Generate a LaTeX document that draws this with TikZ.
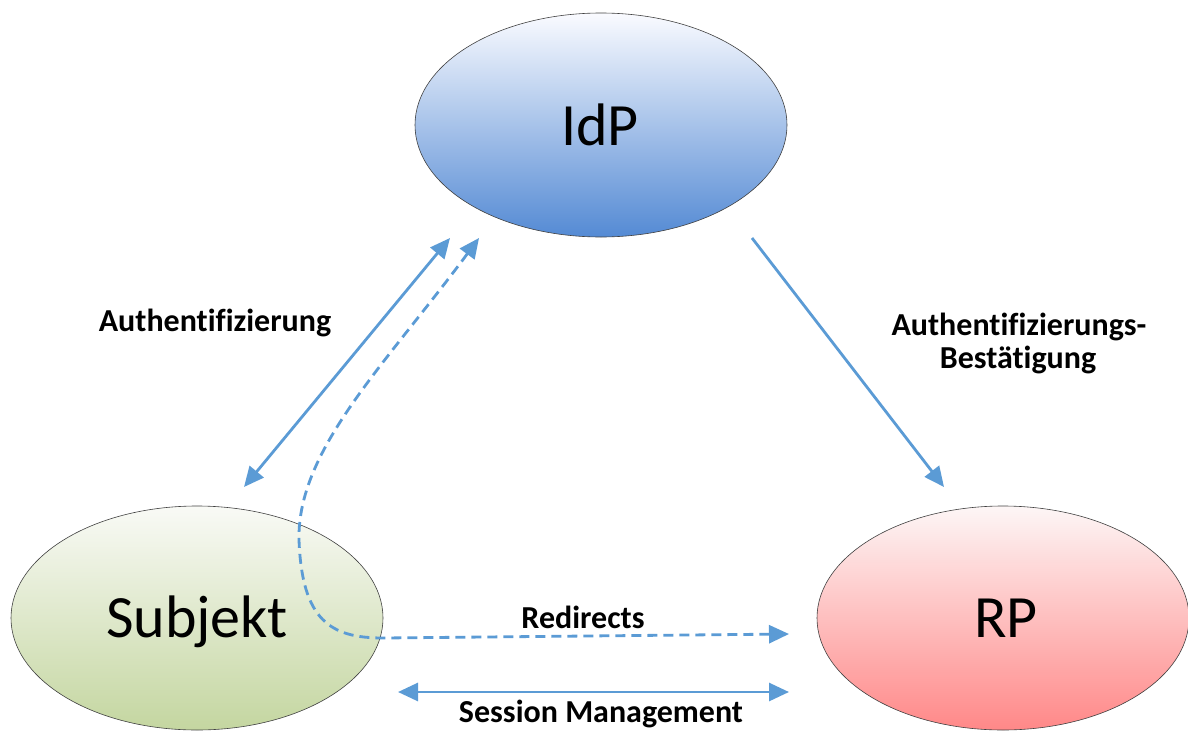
\documentclass[tikz,border=0pt]{standalone}
\usepackage{fontspec}
\setmainfont{Carlito}[Ligatures=NoCommon]
\usetikzlibrary{arrows.meta,shapes.geometric}
\definecolor{arr}{RGB}{91,155,213}
\definecolor{idptop}{RGB}{250,251,255}
\definecolor{idpbot}{RGB}{84,138,212}
\definecolor{subtop}{RGB}{249,250,246}
\definecolor{subbot}{RGB}{196,214,160}
\definecolor{rptop}{RGB}{253,246,246}
\definecolor{rpbot}{RGB}{255,136,136}
\tikzset{
 ent/.style={ellipse, draw=black!75, line width=0.6pt, minimum width=372pt, minimum height=224pt, inner sep=0pt},
 bigtxt/.style={anchor=base, font=\fontsize{60}{70}\selectfont},
 lab/.style={anchor=base, inner sep=0pt, font=\bfseries\fontsize{32}{38}\selectfont},
 conn/.style={draw=arr, line width=2.8pt},
 dconn/.style={conn, dash pattern=on 10pt off 6pt},
 >={Triangle[length=20pt,width=18pt]}
}
\begin{document}
\begin{tikzpicture}[x=1pt,y=-1pt]
\useasboundingbox (0,0) rectangle (1188,731);
\node[ent, top color=idptop, bottom color=idpbot] (idp) at (601,125) {};
\node[ent, top color=subtop, bottom color=subbot] (sub) at (197,618) {};
\node[ent, top color=rptop, bottom color=rpbot] (rp) at (1003,618) {};
\node[bigtxt] (idpt) at (600,145) {IdP};
\node[bigtxt] (subt) at (197,637) {Subjekt};
\node[bigtxt] (rpt) at (1006,637) {RP};

\coordinate (a1) at (450,238);
\coordinate (a2) at (244,487);
\coordinate (d1) at (479,238);
\coordinate (d2) at (789,634);
\coordinate (c1) at (752,238);
\coordinate (c2) at (944,487);
\coordinate (s1) at (398,692);
\coordinate (s2) at (789,692);

\draw[conn,<->] (a2) -- (a1);
\draw[dconn,<->] (d1) .. controls (385,365) and (297,450) .. (299,540) .. controls (302,620) and (330,638) .. (383,638) -- (d2);
\draw[conn,->] (c1) -- (c2);
\draw[conn,<->] (s1) -- (s2);

\node[lab] (l1) at (215,331) {Authentifizierung};
\node[lab] (l2) at (1019,335) {Authentifizierungs-};
\node[lab] (l3) at (1018,368) {Bestätigung};
\node[lab] (l4) at (583,628) {Redirects};
\node[lab] (l5) at (601,722) {Session Management};
\end{tikzpicture}
\end{document}
